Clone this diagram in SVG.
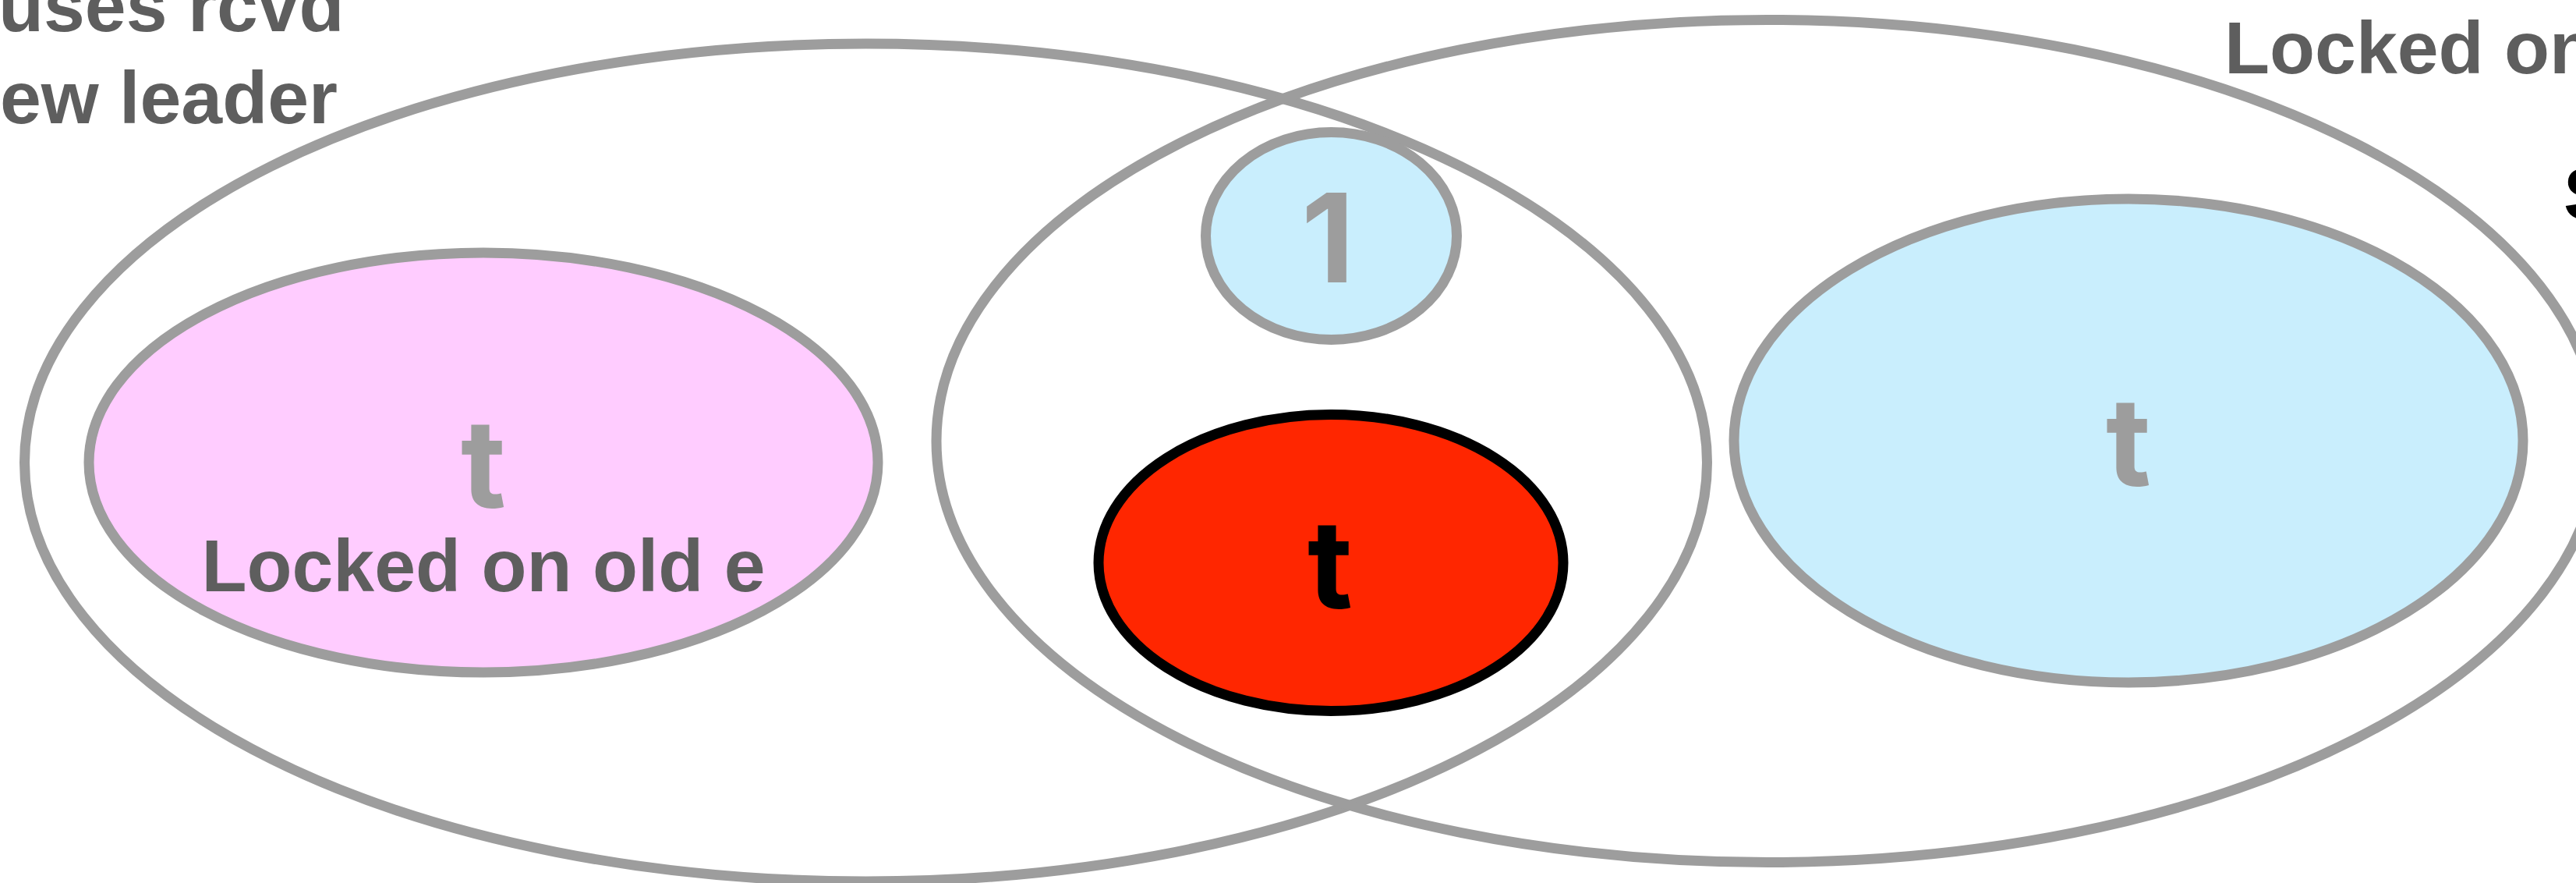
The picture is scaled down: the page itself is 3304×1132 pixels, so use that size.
<svg xmlns="http://www.w3.org/2000/svg" width="3304" height="1132" viewBox="0 0 3304 1132">
<style>
.bg{fill:#ffffff}
.outer{fill:none;stroke:#9d9d9d;stroke-width:13}
.gray{stroke:#9d9d9d;stroke-width:13}
.pink{fill:#ffccff}
.blue{fill:#c9eefd}
.red{fill:#ff2600;stroke:#000000;stroke-width:13}
.lbl{font-family:"Liberation Sans",Arial,Helvetica,sans-serif;font-weight:bold}
.big{font-family:Inter,"Liberation Sans",Arial,sans-serif;font-weight:bold;font-size:158px;text-anchor:middle}
.glyph{fill:#9d9d9d}
.note{font-size:95px;fill:#5e5e5e}
</style>
<rect class="bg" x="0" y="0" width="3304" height="1132"/>
<g id="set-left">
<ellipse class="outer" cx="1110.5" cy="593" rx="1079" ry="537"/>
</g>
<g id="set-right">
<ellipse class="outer" cx="2267" cy="565.5" rx="1066" ry="540"/>
</g>
<g id="node-pink">
<ellipse class="pink gray" cx="620" cy="593" rx="506" ry="269"/>
<text class="big glyph" x="620" y="651">t</text>
<text class="lbl note" x="620" y="758" text-anchor="middle">Locked on old e</text>
</g>
<g id="node-blue-right">
<ellipse class="blue gray" cx="2730" cy="565" rx="506" ry="310"/>
<text class="big glyph" x="2730" y="623">t</text>
</g>
<g id="node-one">
<ellipse class="blue gray" cx="1707.5" cy="302.5" rx="161" ry="133"/>
<text class="big glyph" x="1703" y="362">1</text>
</g>
<g id="node-red">
<ellipse class="red" cx="1707" cy="721.5" rx="298" ry="190"/>
<text class="big" x="1706" y="780" fill="#000000">t</text>
</g>
<g id="labels">
<text class="lbl note" x="-2" y="40">uses rcvd</text>
<text class="lbl note" x="0" y="158">ew leader</text>
<text class="lbl note" x="2853" y="94">Locked on</text>
<text class="lbl" x="3288" y="281" font-size="95" fill="#000000">S</text>
</g>
<g id="connectors"></g>
</svg>
